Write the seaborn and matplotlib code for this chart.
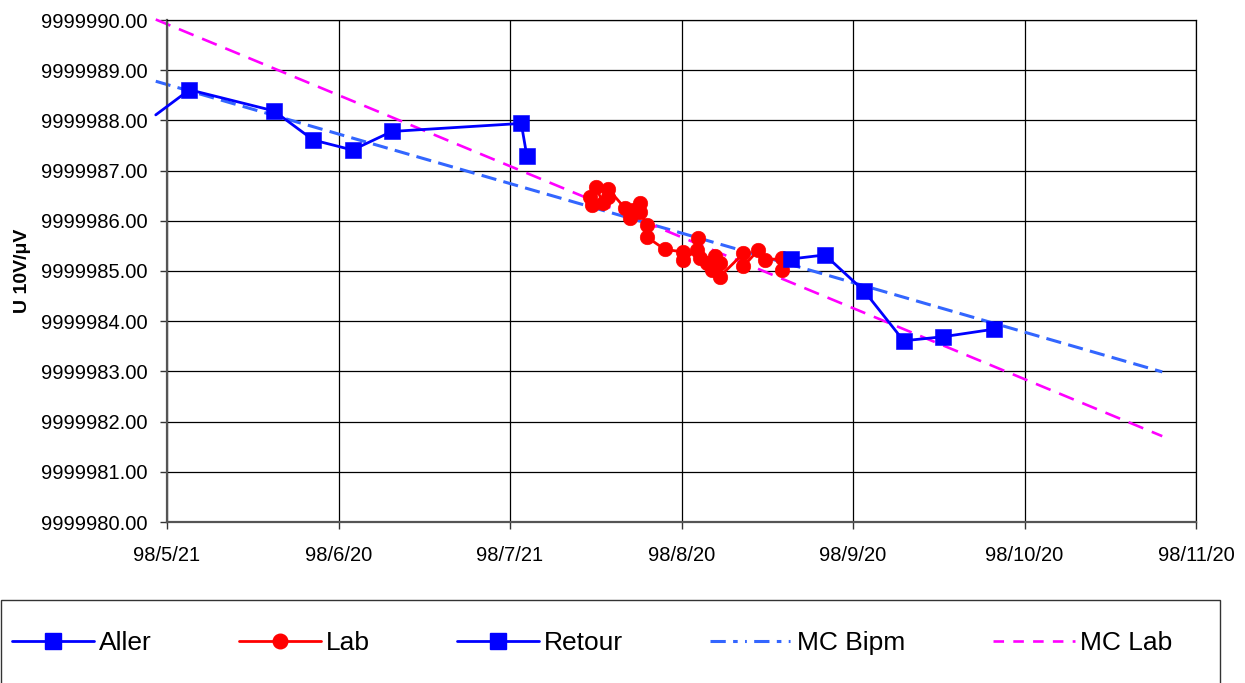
import numpy as np
import pandas as pd
import matplotlib
matplotlib.use("Agg")
import matplotlib.pyplot as plt
import matplotlib.dates as mdates
from matplotlib.lines import Line2D
from matplotlib.patches import Rectangle
import seaborn as sns

# --- data ---
aller_dates = ['1998-05-19', '1998-05-25', '1998-06-09', '1998-06-16',
               '1998-06-23', '1998-06-30', '1998-07-23', '1998-07-24']
aller_values = [9999988.11, 9999988.61, 9999988.19, 9999987.61,
                9999987.41, 9999987.78, 9999987.94, 9999987.29]

lab_dates = ['1998-08-04 05:00', '1998-08-04 13:00', '1998-08-05 06:00', '1998-08-06 14:00',
             '1998-08-07 10:00', '1998-08-07 12:00', '1998-08-10 11:00', '1998-08-11 08:00',
             '1998-08-11 21:00', '1998-08-13 03:00', '1998-08-13 03:00', '1998-08-14 07:00',
             '1998-08-14 07:00', '1998-08-17 13:00', '1998-08-20 20:00', '1998-08-20 20:00',
             '1998-08-23 05:00', '1998-08-23 12:00', '1998-08-23 19:00', '1998-08-24 23:00',
             '1998-08-25 21:00', '1998-08-26 11:00', '1998-08-27 08:00', '1998-08-27 08:00',
             '1998-08-31 12:00', '1998-08-31 12:00', '1998-09-03 04:00', '1998-09-04 08:00',
             '1998-09-07 08:00', '1998-09-07 08:00']
lab_values = [9999986.48, 9999986.31, 9999986.67, 9999986.35,
              9999986.48, 9999986.63, 9999986.25, 9999986.05,
              9999986.22, 9999986.35, 9999986.18, 9999985.92,
              9999985.68, 9999985.43, 9999985.38, 9999985.22,
              9999985.42, 9999985.65, 9999985.25, 9999985.15,
              9999985.02, 9999985.29, 9999985.15, 9999984.89,
              9999985.35, 9999985.09, 9999985.42, 9999985.22,
              9999985.25, 9999985.02]

retour_dates = ['1998-09-09', '1998-09-15', '1998-09-22', '1998-09-29',
                '1998-10-06', '1998-10-15']
retour_values = [9999985.24, 9999985.32, 9999984.60, 9999983.61,
                 9999983.69, 9999983.84]

# linear trend lines (end points)
mc_bipm_dates = ['1998-05-19', '1998-11-14']
mc_bipm_values = [9999988.78, 9999982.99]
mc_lab_dates = ['1998-05-19', '1998-11-14']
mc_lab_values = [9999990.01, 9999981.71]

x_tick_labels = ['98/5/21', '98/6/20', '98/7/21', '98/8/20',
                 '98/9/20', '98/10/20', '98/11/20']
y_ticks = np.arange(9999980, 9999991, 1)

legend_labels = ['Aller', 'Lab', 'Retour', 'MC Bipm', 'MC Lab']

# --- style ---
sns.set_theme(style='white')
plt.rcParams['font.family'] = ['Liberation Sans', 'DejaVu Sans']
plt.rcParams['text.color'] = 'black'
plt.rcParams['axes.labelcolor'] = 'black'

BLUE = '#0000FF'
RED = '#FF0000'
BIPM = '#3366FF'
MAGENTA = '#FF00FF'
SQ = 11.5
CIR = 10.5

fig = plt.figure(figsize=(12.45, 6.83), dpi=100)
ax = fig.add_axes([167 / 1245, 1 - 522 / 683, 1029 / 1245, 502 / 683])

# trend lines underneath
sns.lineplot(x=pd.to_datetime(mc_bipm_dates), y=mc_bipm_values, ax=ax,
             color=BIPM, lw=2.2, estimator=None, sort=False,
             zorder=2, clip_on=False).lines[-1].set_dashes((5, 2.4))
sns.lineplot(x=pd.to_datetime(mc_lab_dates), y=mc_lab_values, ax=ax,
             color=MAGENTA, lw=1.9, estimator=None, sort=False,
             zorder=2, clip_on=False).lines[-1].set_dashes((6, 3.5))

# data series
sns.lineplot(x=pd.to_datetime(aller_dates), y=aller_values, ax=ax,
             color=BLUE, lw=2, marker='s', markersize=SQ, markeredgewidth=0.4,
             markeredgecolor=BLUE, markevery=list(range(1, len(aller_dates))),
             estimator=None, sort=False, zorder=4, clip_on=False)
sns.lineplot(x=pd.to_datetime(lab_dates), y=lab_values, ax=ax,
             color=RED, lw=2, marker='o', markersize=CIR, markeredgewidth=0.4,
             markeredgecolor=RED, estimator=None, sort=False, zorder=3)
sns.lineplot(x=pd.to_datetime(retour_dates), y=retour_values, ax=ax,
             color=BLUE, lw=2, marker='s', markersize=SQ, markeredgewidth=0.4,
             markeredgecolor=BLUE, estimator=None, sort=False, zorder=4)

# axes
start = pd.Timestamp('1998-05-21')
x_ticks = [mdates.date2num(start + pd.Timedelta(hours=732 * i)) for i in range(len(x_tick_labels))]
ax.set_xlim(x_ticks[0], x_ticks[-1])
ax.set_xticks(x_ticks)
ax.set_xticklabels(x_tick_labels, fontsize=14.5)
ax.set_ylim(y_ticks[0], y_ticks[-1])
ax.set_yticks(y_ticks)
ax.set_yticklabels(['%.2f' % v for v in y_ticks], fontsize=14.5)
ax.set_xlabel('')
ax.set_ylabel('U 10V/μV', fontsize=14, fontweight='bold')
ax.yaxis.set_label_coords(-0.132, 0.5)

ax.grid(True, color='#000000', lw=0.9)
ax.tick_params(axis='both', direction='out', length=5, width=1, color='#333333',
               labelcolor='#000000', bottom=True, left=True)
ax.tick_params(axis='y', pad=9)
ax.tick_params(axis='x', pad=12)
for side in ['left', 'bottom']:
    ax.spines[side].set_color('#555555')
    ax.spines[side].set_linewidth(1.6)
for side in ['top', 'right']:
    ax.spines[side].set_color('#000000')
    ax.spines[side].set_linewidth(0.9)

# legend
handles = [
    Line2D([], [], color=BLUE, lw=2, marker='s', markersize=SQ),
    Line2D([], [], color=RED, lw=2, marker='o', markersize=CIR),
    Line2D([], [], color=BLUE, lw=2, marker='s', markersize=SQ),
    Line2D([], [], color=BIPM, lw=2.2, dashes=(5, 2.4, 1.5, 2.4, 0.6, 2.4)),
    Line2D([], [], color=MAGENTA, lw=1.9, dashes=(4, 3.5)),
]
leg = fig.legend(handles, legend_labels, loc='center left',
                 bbox_to_anchor=(12 / 1245, 1 - 643 / 683), ncol=5, frameon=False,
                 fontsize=19, handlelength=3.1, handletextpad=0.2, columnspacing=3.3,
                 borderpad=0, borderaxespad=0)
for t in leg.get_texts():
    t.set_color('black')
fig.patches.append(Rectangle((0.5 / 1245, -0.1), 1219.5 / 1245, 0.1 + (1 - 600 / 683),
                             transform=fig.transFigure, fill=False,
                             edgecolor='#333333', lw=1))

fig.savefig('out.png', dpi=100)
